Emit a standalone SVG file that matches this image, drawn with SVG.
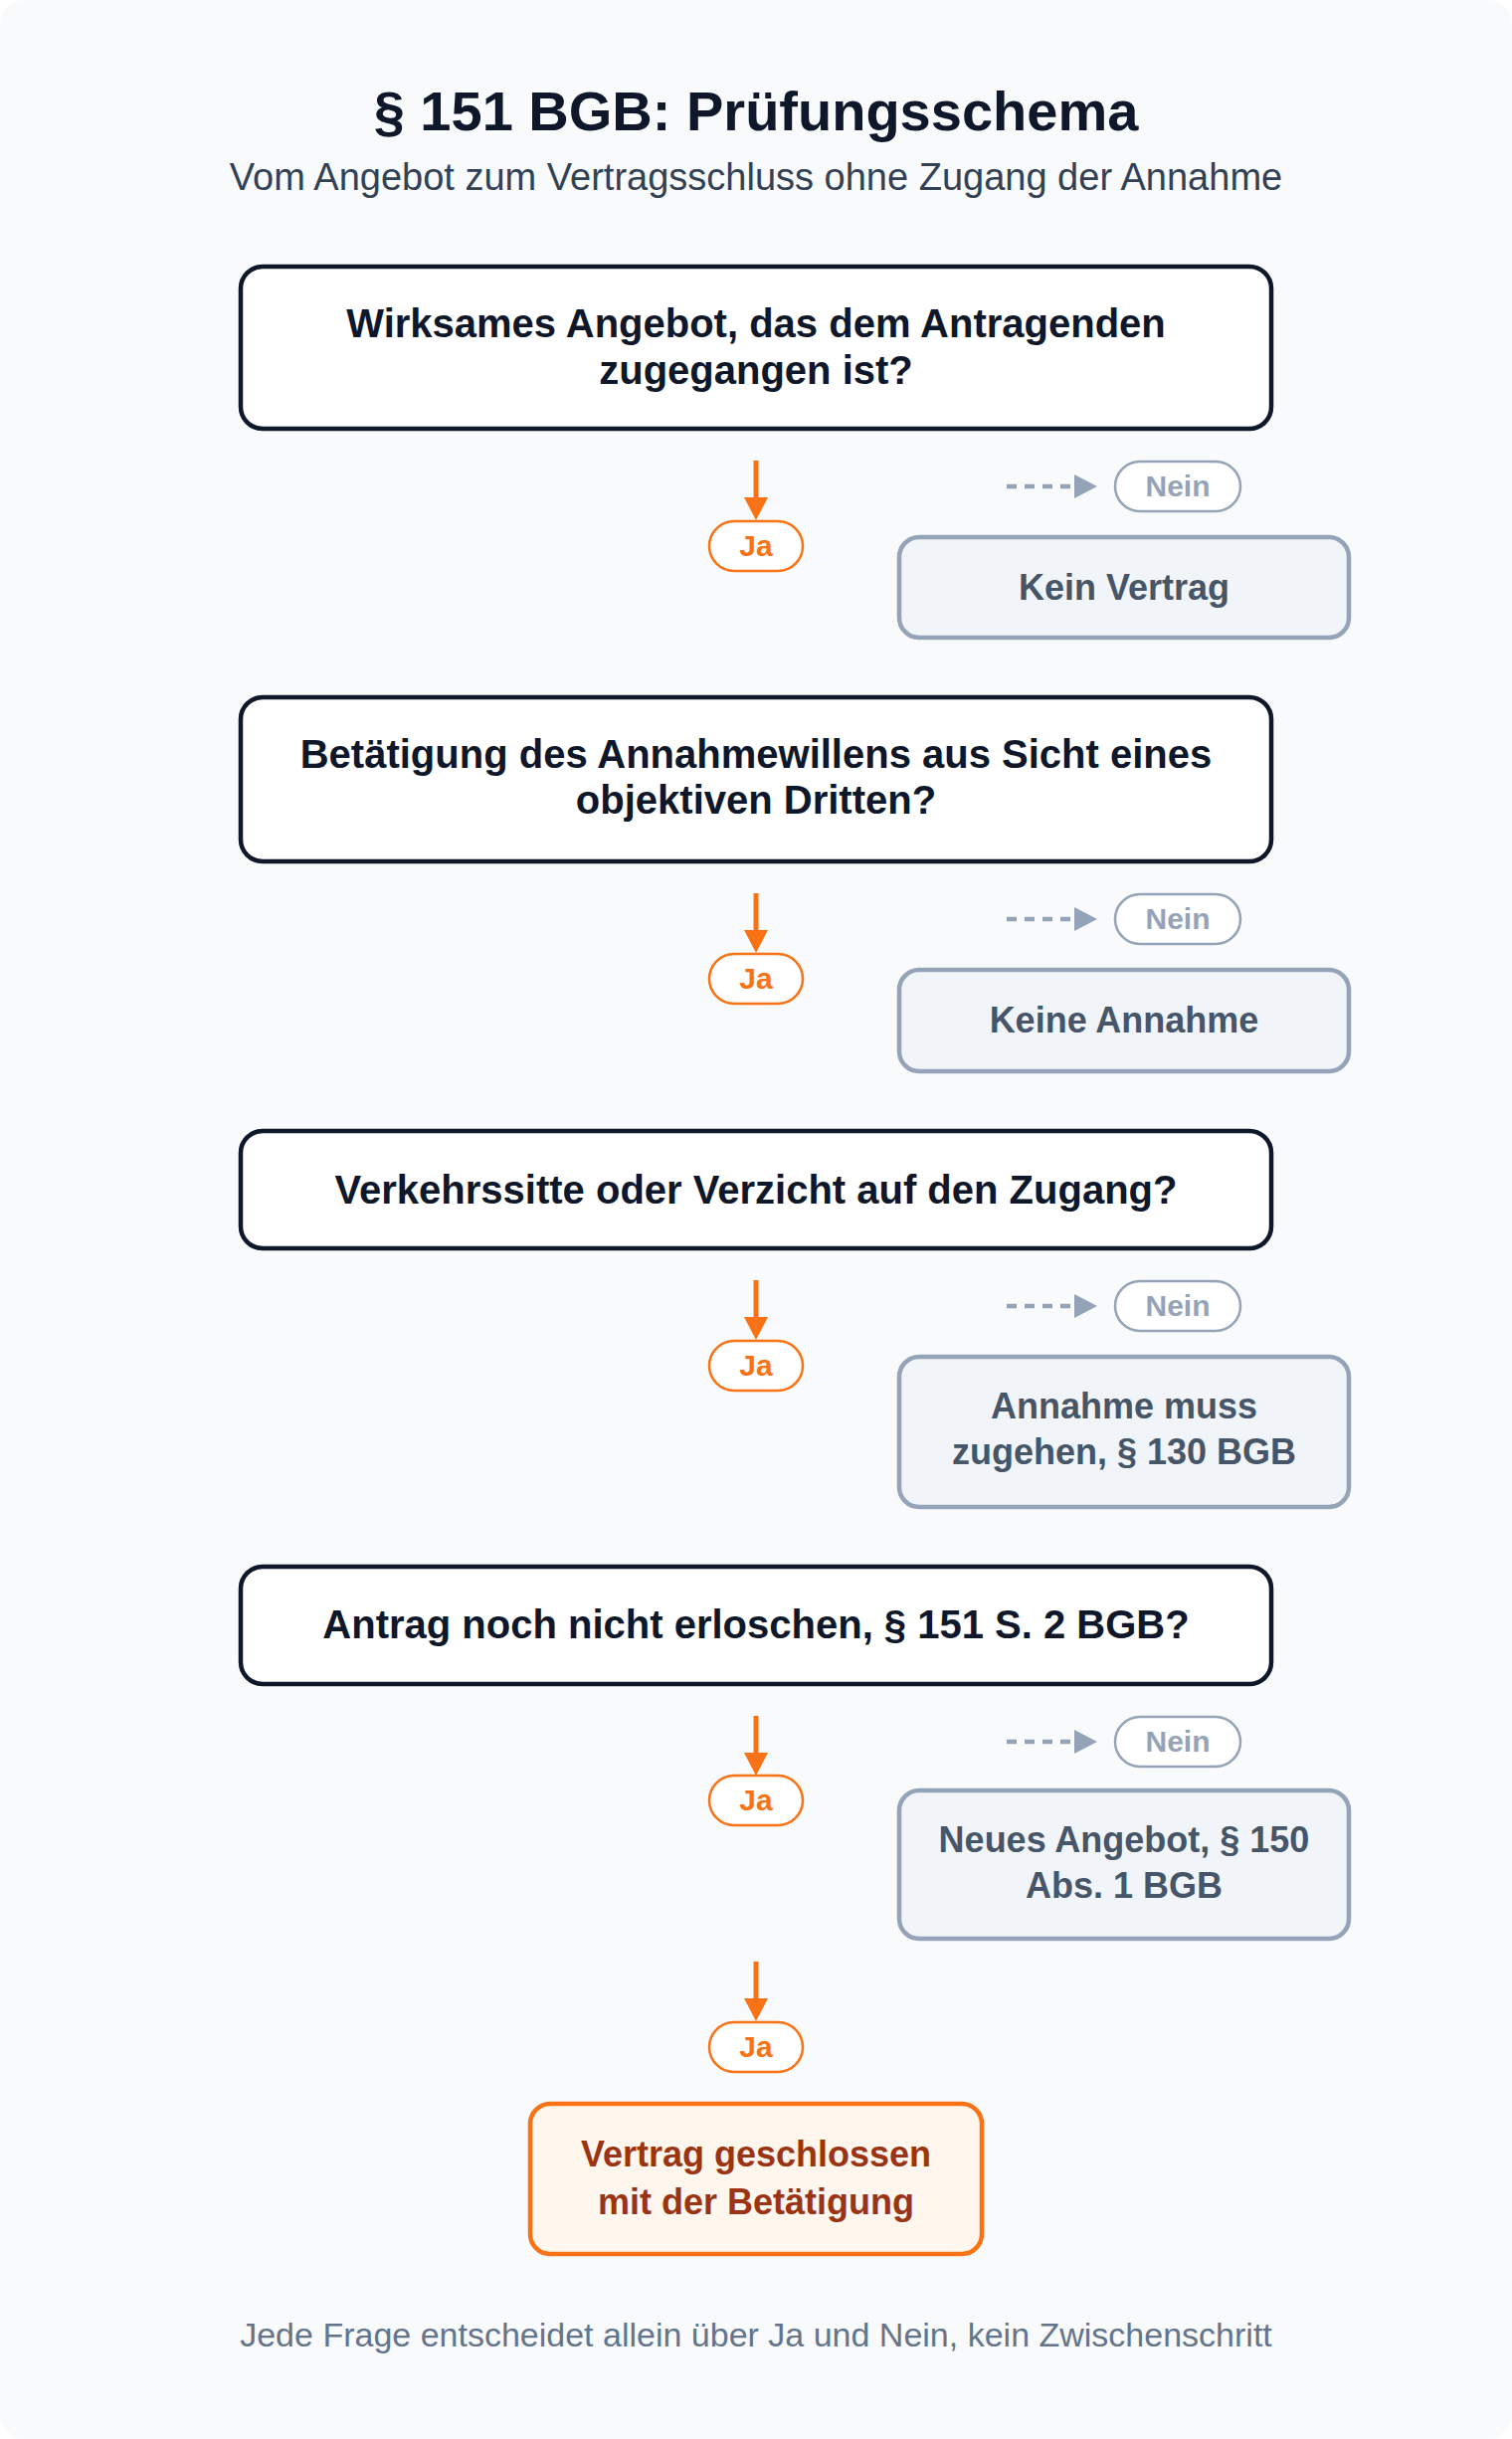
<svg xmlns="http://www.w3.org/2000/svg" width="1520" height="2452" viewBox="0 0 1520 2452">
  <defs>
    <marker id="ah-ja" viewBox="0 0 23 24" markerUnits="userSpaceOnUse" markerWidth="23" markerHeight="24" refX="0" refY="12" orient="auto">
      <path d="M0,0 L23,12 L0,24 Z" fill="#f97316"/>
    </marker>
    <marker id="ah-nein" viewBox="0 0 23 24" markerUnits="userSpaceOnUse" markerWidth="23" markerHeight="24" refX="0" refY="12" orient="auto">
      <path d="M0,0 L23,12 L0,24 Z" fill="#94a3b8"/>
    </marker>
  </defs>
  <style>
    text { font-family: "Liberation Sans", Arial, sans-serif; text-anchor: middle; }
    .title { font-size: 56px; font-weight: 700; fill: #0f172a; }
    .subtitle { font-size: 38px; fill: #334155; }
    .footer { font-size: 34px; fill: #64748b; }
    .q rect { fill: #ffffff; stroke: #0f172a; stroke-width: 4.5; }
    .q text { font-size: 40px; font-weight: 700; fill: #0f172a; }
    .res rect { fill: #f1f5f9; stroke: #94a3b8; stroke-width: 4.5; }
    .res text { font-size: 36px; font-weight: 700; fill: #475569; }
    .final rect { fill: #fff7ed; stroke: #f97316; stroke-width: 4.5; }
    .final text { font-size: 36px; font-weight: 700; fill: #9a3412; }
    .ja rect { fill: #ffffff; stroke: #f97316; stroke-width: 2.5; }
    .ja text { font-size: 30px; font-weight: 700; fill: #f97316; }
    .nein rect { fill: #ffffff; stroke: #94a3b8; stroke-width: 2.5; }
    .nein text { font-size: 30px; font-weight: 700; fill: #94a3b8; }
    .c-ja { stroke: #f97316; stroke-width: 5; fill: none; marker-end: url(#ah-ja); }
    .c-nein { stroke: #94a3b8; stroke-width: 4.5; stroke-dasharray: 10 8; fill: none; marker-end: url(#ah-nein); }
  </style>

  <rect x="0" y="0" width="1520" height="2452" fill="#ffffff"/>
  <rect x="0" y="0" width="1520" height="2452" rx="25" fill="#f8fafc"/>

  <g id="header">
    <text class="title" x="760" y="131">§ 151 BGB: Prüfungsschema</text>
    <text class="subtitle" x="760" y="191">Vom Angebot zum Vertragsschluss ohne Zugang der Annahme</text>
  </g>

  <g id="connectors">
    <line class="c-ja" x1="760" y1="463" x2="760" y2="500"/>
    <line class="c-nein" x1="1012" y1="489" x2="1080" y2="489"/>
    <line class="c-ja" x1="760" y1="898" x2="760" y2="935"/>
    <line class="c-nein" x1="1012" y1="924" x2="1080" y2="924"/>
    <line class="c-ja" x1="760" y1="1287" x2="760" y2="1324"/>
    <line class="c-nein" x1="1012" y1="1313" x2="1080" y2="1313"/>
    <line class="c-ja" x1="760" y1="1725" x2="760" y2="1762"/>
    <line class="c-nein" x1="1012" y1="1751" x2="1080" y2="1751"/>
    <line class="c-ja" x1="760" y1="1972" x2="760" y2="2009"/>
  </g>

  <g id="q1" class="q">
    <rect x="242" y="268" width="1036" height="163" rx="22"/>
    <text x="760" y="339">Wirksames Angebot, das dem Antragenden</text>
    <text x="760" y="386">zugegangen ist?</text>
  </g>
  <g id="ja1" class="ja">
    <rect x="713" y="524" width="94" height="50" rx="25"/>
    <text x="760" y="559">Ja</text>
  </g>
  <g id="nein1" class="nein">
    <rect x="1121" y="464" width="126" height="50" rx="25"/>
    <text x="1184" y="499">Nein</text>
  </g>
  <g id="r1" class="res">
    <rect x="904" y="540" width="452" height="101" rx="20"/>
    <text x="1130" y="603">Kein Vertrag</text>
  </g>

  <g id="q2" class="q">
    <rect x="242" y="701" width="1036" height="165" rx="22"/>
    <text x="760" y="772">Betätigung des Annahmewillens aus Sicht eines</text>
    <text x="760" y="818">objektiven Dritten?</text>
  </g>
  <g id="ja2" class="ja">
    <rect x="713" y="959" width="94" height="50" rx="25"/>
    <text x="760" y="994">Ja</text>
  </g>
  <g id="nein2" class="nein">
    <rect x="1121" y="899" width="126" height="50" rx="25"/>
    <text x="1184" y="934">Nein</text>
  </g>
  <g id="r2" class="res">
    <rect x="904" y="975" width="452" height="102" rx="20"/>
    <text x="1130" y="1038">Keine Annahme</text>
  </g>

  <g id="q3" class="q">
    <rect x="242" y="1137" width="1036" height="118" rx="22"/>
    <text x="760" y="1210">Verkehrssitte oder Verzicht auf den Zugang?</text>
  </g>
  <g id="ja3" class="ja">
    <rect x="713" y="1348" width="94" height="50" rx="25"/>
    <text x="760" y="1383">Ja</text>
  </g>
  <g id="nein3" class="nein">
    <rect x="1121" y="1288" width="126" height="50" rx="25"/>
    <text x="1184" y="1323">Nein</text>
  </g>
  <g id="r3" class="res">
    <rect x="904" y="1364" width="452" height="151" rx="20"/>
    <text x="1130" y="1426">Annahme muss</text>
    <text x="1130" y="1472">zugehen, § 130 BGB</text>
  </g>

  <g id="q4" class="q">
    <rect x="242" y="1575" width="1036" height="118" rx="22"/>
    <text x="760" y="1647">Antrag noch nicht erloschen, § 151 S. 2 BGB?</text>
  </g>
  <g id="ja4" class="ja">
    <rect x="713" y="1785" width="94" height="50" rx="25"/>
    <text x="760" y="1820">Ja</text>
  </g>
  <g id="nein4" class="nein">
    <rect x="1121" y="1726" width="126" height="50" rx="25"/>
    <text x="1184" y="1761">Nein</text>
  </g>
  <g id="r4" class="res">
    <rect x="904" y="1800" width="452" height="149" rx="20"/>
    <text x="1130" y="1862">Neues Angebot, § 150</text>
    <text x="1130" y="1908">Abs. 1 BGB</text>
  </g>

  <g id="ja5" class="ja">
    <rect x="713" y="2033" width="94" height="50" rx="25"/>
    <text x="760" y="2068">Ja</text>
  </g>
  <g id="final" class="final">
    <rect x="533" y="2115" width="454" height="151" rx="20"/>
    <text x="760" y="2178">Vertrag geschlossen</text>
    <text x="760" y="2226">mit der Betätigung</text>
  </g>

  <g id="footer">
    <text class="footer" x="760" y="2359">Jede Frage entscheidet allein über Ja und Nein, kein Zwischenschritt</text>
  </g>
</svg>
